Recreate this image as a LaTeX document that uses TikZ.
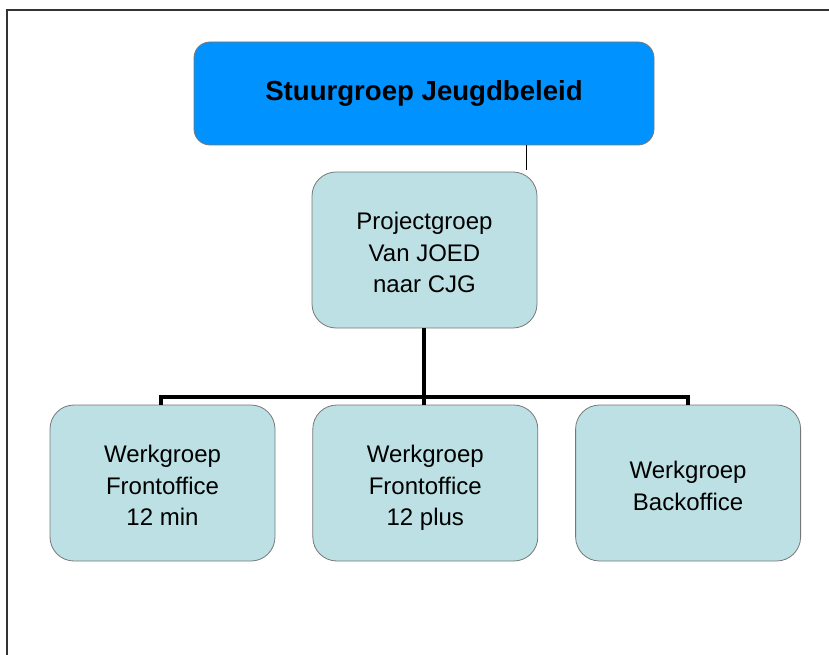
\documentclass[tikz,border=0pt]{standalone}
\usepackage{fontspec}
\setmainfont{Liberation Sans}
\usepackage{tikz}
\usetikzlibrary{positioning}

\definecolor{stuurblue}{RGB}{0,146,255}
\definecolor{groepcyan}{RGB}{188,224,227}
\definecolor{randgray}{RGB}{120,120,120}

% extra room above the first line of a box
\newcommand{\boxtop}{\rule{0pt}{32pt}}

\tikzset{
    groepbox/.style={draw=randgray, line width=0.8pt, fill=groepcyan, rounded corners=24pt,
        minimum width=225pt, minimum height=156pt, inner sep=0pt, align=center,
        font=\fontsize{24}{31.5}\selectfont, execute at end node=\strut},
    stuurbox/.style={draw=randgray, line width=0.8pt, fill=stuurblue, rounded corners=16pt,
        minimum width=460pt, minimum height=103pt, inner sep=0pt, align=center,
        font=\fontsize{27.6}{33}\selectfont\bfseries},
    busline/.style={line width=3.5pt, black}
}

\begin{document}
\begin{tikzpicture}[x=1pt, y=-1pt]
        \useasboundingbox (0,0) rectangle (829,655);
        % Frame
        \draw[line width=1.5pt, black!80] (7,655) -- (7,10) -- (829,10);

        % Boxes
        \node[stuurbox] (stuur) at (424,93.5) {Stuurgroep Jeugdbeleid};
        \node[groepbox] (proj) at (424.5,250) {\boxtop Projectgroep\\Van JOED\\naar CJG};
        \node[groepbox] (front12min) at (162.5,483) {\boxtop Werkgroep\\Frontoffice\\12 min};
        \node[groepbox, right=37pt of front12min] (front12plus) {\boxtop Werkgroep\\Frontoffice\\12 plus};
        \node[groepbox, right=37pt of front12plus] (back) {\boxtop Werkgroep\\Backoffice};

        % Connectors
        \coordinate (projtop) at (526,170);
        \coordinate (bus) at (424,397);
        \draw[line width=1pt] (stuur.south -| projtop) -- (projtop);
        \draw[busline] (proj.south -| bus) -- (front12plus.north -| bus);
        \draw[busline] ([xshift=-1.5pt]front12min.north) |- (bus) -| (back.north);
    \end{tikzpicture}
\end{document}
